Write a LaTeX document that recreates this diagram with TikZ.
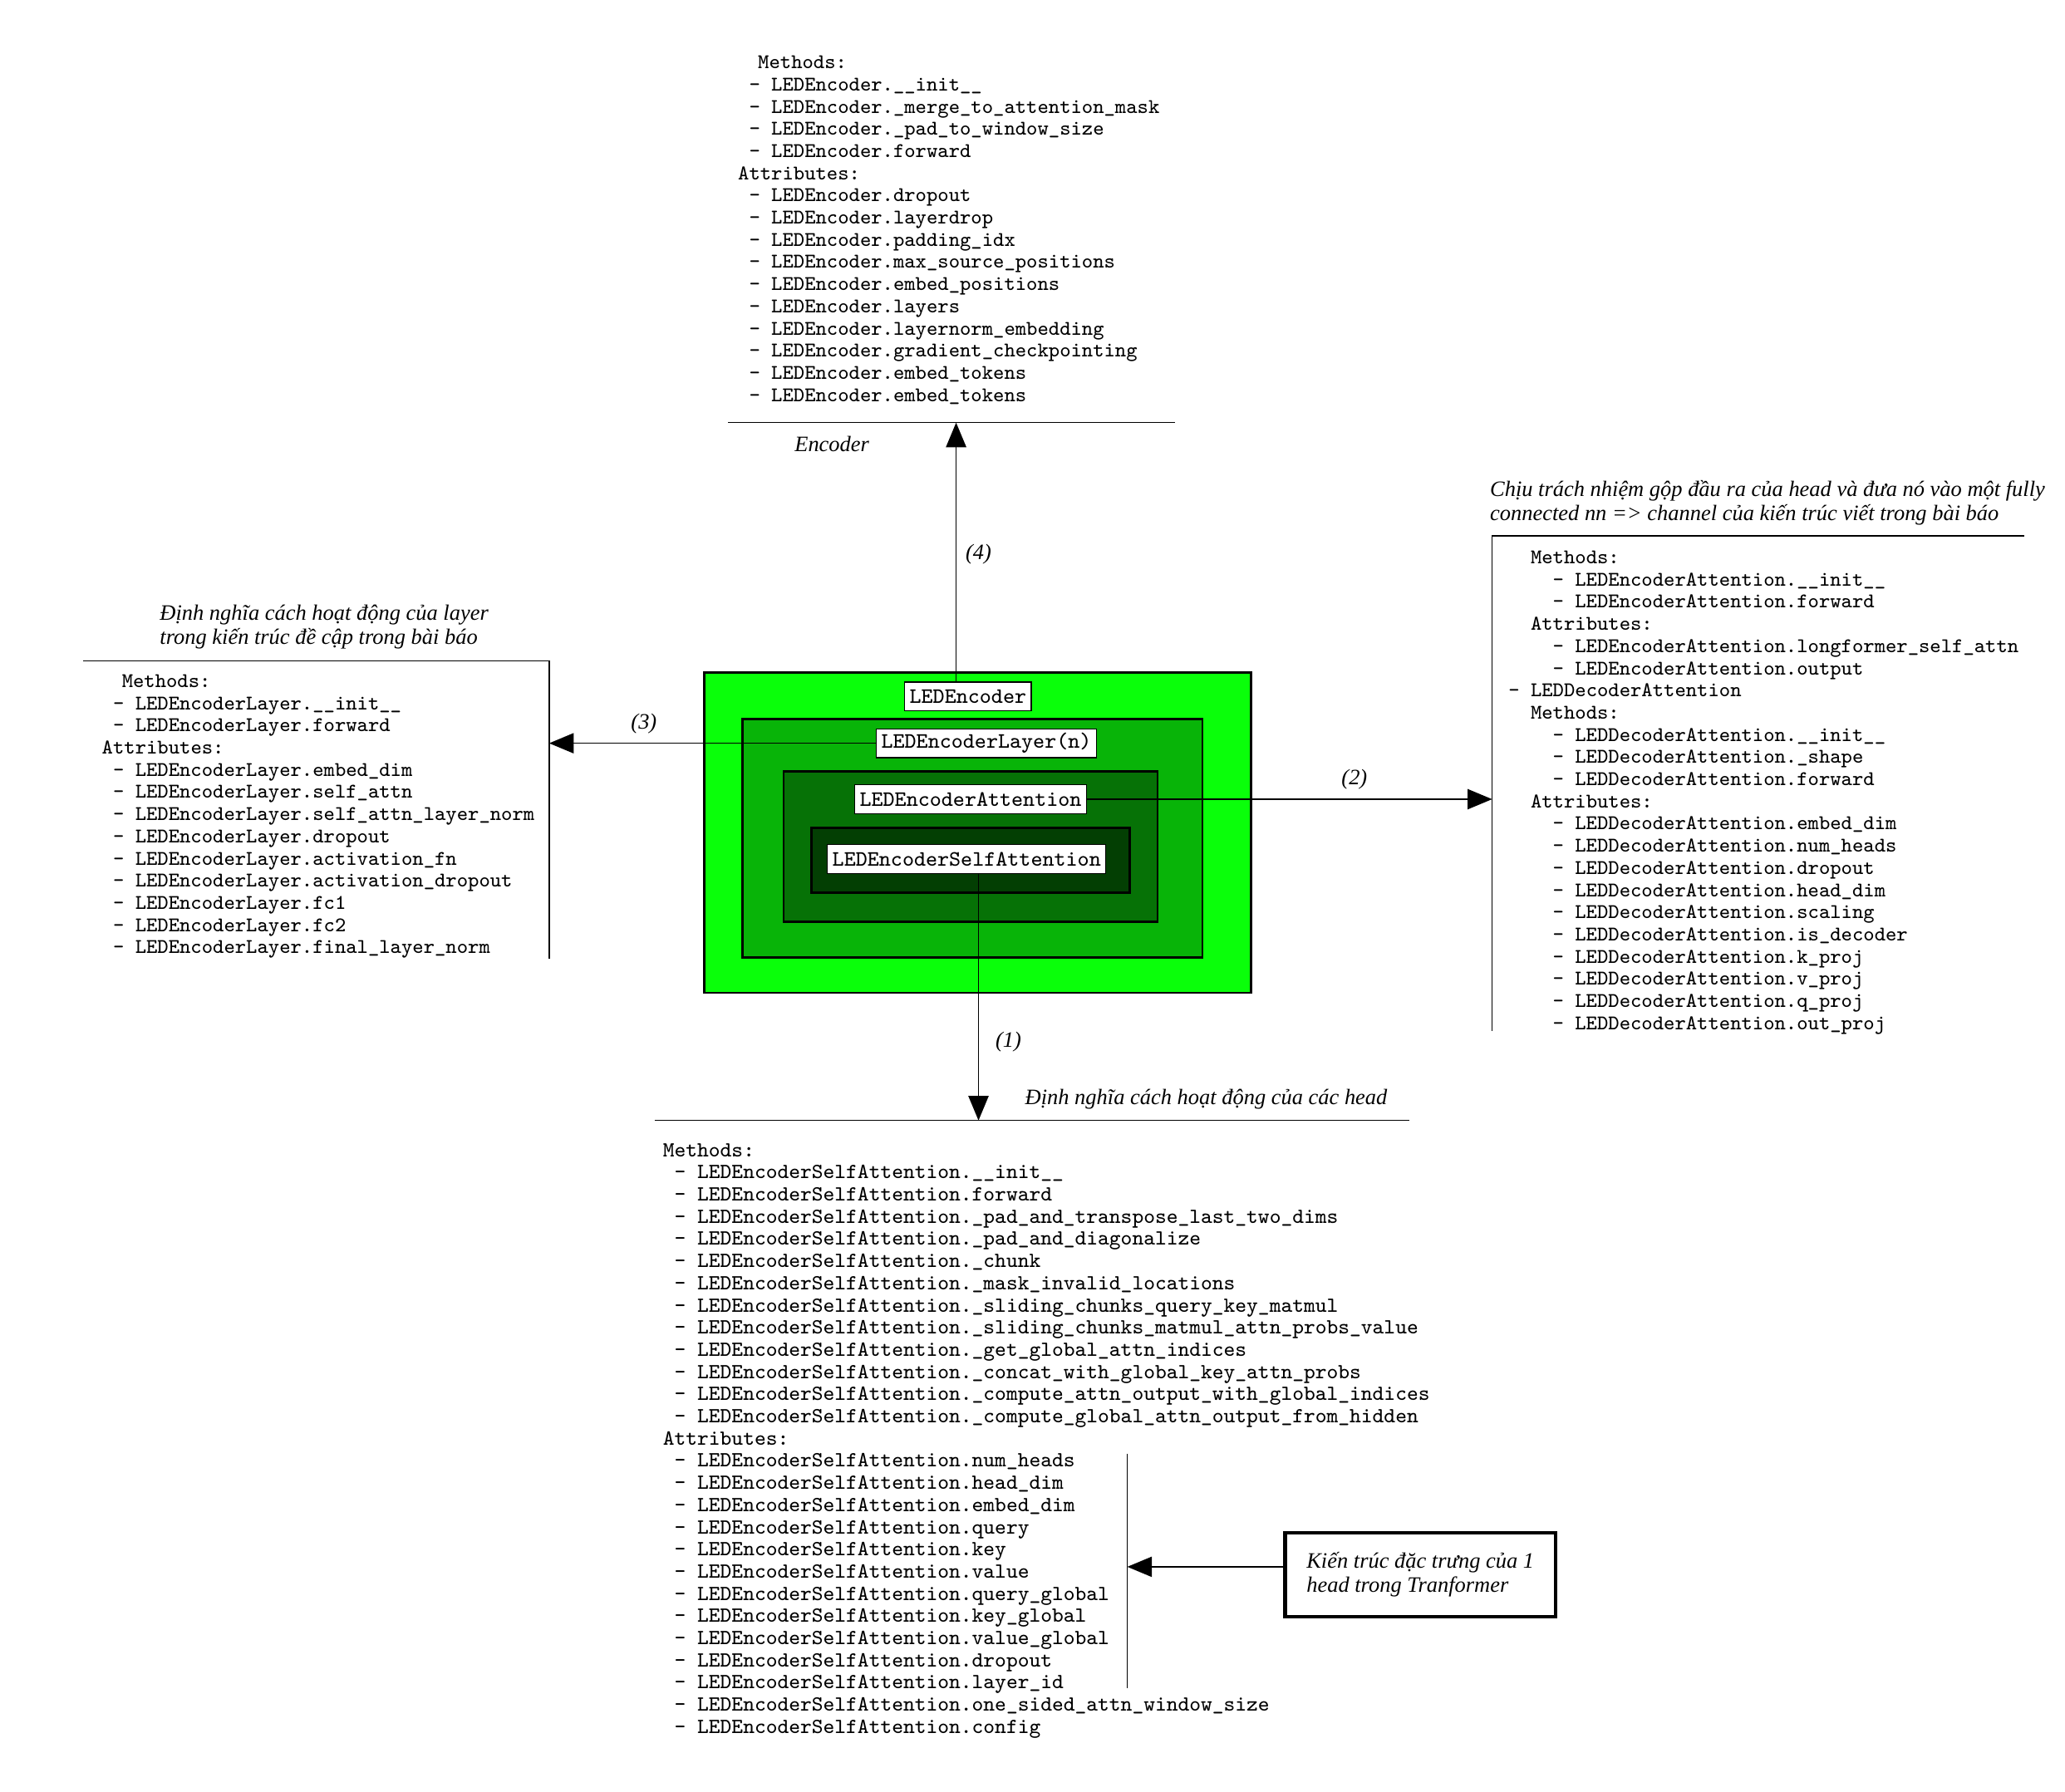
\documentclass[tikz,border=0pt]{standalone}
\usepackage{fontspec}
\setmainfont{Liberation Serif}
\usepackage{xcolor}
\usepackage{tikz}
\usetikzlibrary{arrows.meta}
\definecolor{encgreen}{HTML}{0AFF0A}
\definecolor{layergreen}{HTML}{08B408}
\definecolor{attngreen}{HTML}{067206}
\definecolor{selfgreen}{HTML}{033F03}
\newcommand{\lstfont}{\ttfamily\fontsize{7.22}{7.67}\selectfont}
\newcommand{\headlstfont}{\ttfamily\fontsize{7.45}{7.67}\selectfont}
\newcommand{\lblfont}{\ttfamily\fontsize{7.6}{8}\selectfont}
\newcommand{\notefont}{\itshape\fontsize{7.6}{8.2}\selectfont}
\newcommand{\indt}[1]{\hspace*{#1\fontdimen2\font}}

\begin{document}
\begin{tikzpicture}[x=0.16mm, y=-0.16mm, >={Triangle[length=8.5pt,width=7pt]},
  lbl/.style={draw, fill=white, font=\lblfont, inner xsep=0.6mm, inner ysep=0pt, minimum height=3.5mm},
  lst/.style={font=\lstfont, align=left, inner sep=0pt, anchor=north west},
  note/.style={font=\notefont, inner sep=0pt},
  frame/.style={line width=0.8pt}]
\useasboundingbox (0,0) rectangle (1568,1361);

% nested blocks
\draw[frame, fill=encgreen] (535,511) rectangle (950,754);
\draw[frame, fill=layergreen] (564,546) rectangle (913,727);
\draw[frame, fill=attngreen] (595,586) rectangle (879,700);
\draw[frame, fill=selfgreen] (616,629) rectangle (858,678);

\node[lbl] (encLbl) at (735,529) {LEDEncoder};
\node[lbl] (layerLbl) at (749,564.5) {LEDEncoderLayer(n)};
\node[lbl] (attnLbl) at (737,607) {LEDEncoderAttention};
\node[lbl] (selfLbl) at (734,652.5) {LEDEncoderSelfAttention};

% Encoder
\node[lst] (encList) at (560,42) {%
\indt{1.8}Methods:\\
\indt{1}- LEDEncoder.\_\_init\_\_\\
\indt{1}- LEDEncoder.\_merge\_to\_attention\_mask\\
\indt{1}- LEDEncoder.\_pad\_to\_window\_size\\
\indt{1}- LEDEncoder.forward\\
Attributes:\\
\indt{1}- LEDEncoder.dropout\\
\indt{1}- LEDEncoder.layerdrop\\
\indt{1}- LEDEncoder.padding\_idx\\
\indt{1}- LEDEncoder.max\_source\_positions\\
\indt{1}- LEDEncoder.embed\_positions\\
\indt{1}- LEDEncoder.layers\\
\indt{1}- LEDEncoder.layernorm\_embedding\\
\indt{1}- LEDEncoder.gradient\_checkpointing\\
\indt{1}- LEDEncoder.embed\_tokens\\
\indt{1}- LEDEncoder.embed\_tokens};
\draw (553,321) -- (892,321);
\node[note, anchor=west] (encNote) at (603,337) {Encoder};

% EncoderLayer
\node[note, align=left, anchor=west] (layerNote) at (121,476) {Định nghĩa cách hoạt động của layer\\trong kiến trúc đề cập trong bài báo};
\node[lst] (layerList) at (77,512) {%
\indt{1.8}Methods:\\
\indt{1}- LEDEncoderLayer.\_\_init\_\_\\
\indt{1}- LEDEncoderLayer.forward\\
Attributes:\\
\indt{1}- LEDEncoderLayer.embed\_dim\\
\indt{1}- LEDEncoderLayer.self\_attn\\
\indt{1}- LEDEncoderLayer.self\_attn\_layer\_norm\\
\indt{1}- LEDEncoderLayer.dropout\\
\indt{1}- LEDEncoderLayer.activation\_fn\\
\indt{1}- LEDEncoderLayer.activation\_dropout\\
\indt{1}- LEDEncoderLayer.fc1\\
\indt{1}- LEDEncoderLayer.fc2\\
\indt{1}- LEDEncoderLayer.final\_layer\_norm};
\draw (63,502) -- (417,502) -- (417,728);

% Attention
\node[note, align=left, anchor=west] (attnNote) at (1131,382) {Chịu trách nhiệm gộp đầu ra của head và đưa nó vào một fully\\connected nn => channel của kiến trúc viết trong bài báo};
\node[lst] (attnList) at (1145,418) {%
\indt{2}Methods:\\
\indt{4}- LEDEncoderAttention.\_\_init\_\_\\
\indt{4}- LEDEncoderAttention.forward\\
\indt{2}Attributes:\\
\indt{4}- LEDEncoderAttention.longformer\_self\_attn\\
\indt{4}- LEDEncoderAttention.output\\
- LEDDecoderAttention\\
\indt{2}Methods:\\
\indt{4}- LEDDecoderAttention.\_\_init\_\_\\
\indt{4}- LEDDecoderAttention.\_shape\\
\indt{4}- LEDDecoderAttention.forward\\
\indt{2}Attributes:\\
\indt{4}- LEDDecoderAttention.embed\_dim\\
\indt{4}- LEDDecoderAttention.num\_heads\\
\indt{4}- LEDDecoderAttention.dropout\\
\indt{4}- LEDDecoderAttention.head\_dim\\
\indt{4}- LEDDecoderAttention.scaling\\
\indt{4}- LEDDecoderAttention.is\_decoder\\
\indt{4}- LEDDecoderAttention.k\_proj\\
\indt{4}- LEDDecoderAttention.v\_proj\\
\indt{4}- LEDDecoderAttention.q\_proj\\
\indt{4}- LEDDecoderAttention.out\_proj};
\draw (1537,407) -- (1133,407) -- (1133,783);

% SelfAttention
\node[note, anchor=west] (selfNote) at (778,835) {Định nghĩa cách hoạt động của các head};
\node[lst, font=\headlstfont] (selfList) at (503,868) {%
Methods:\\
\indt{1}- LEDEncoderSelfAttention.\_\_init\_\_\\
\indt{1}- LEDEncoderSelfAttention.forward\\
\indt{1}- LEDEncoderSelfAttention.\_pad\_and\_transpose\_last\_two\_dims\\
\indt{1}- LEDEncoderSelfAttention.\_pad\_and\_diagonalize\\
\indt{1}- LEDEncoderSelfAttention.\_chunk\\
\indt{1}- LEDEncoderSelfAttention.\_mask\_invalid\_locations\\
\indt{1}- LEDEncoderSelfAttention.\_sliding\_chunks\_query\_key\_matmul\\
\indt{1}- LEDEncoderSelfAttention.\_sliding\_chunks\_matmul\_attn\_probs\_value\\
\indt{1}- LEDEncoderSelfAttention.\_get\_global\_attn\_indices\\
\indt{1}- LEDEncoderSelfAttention.\_concat\_with\_global\_key\_attn\_probs\\
\indt{1}- LEDEncoderSelfAttention.\_compute\_attn\_output\_with\_global\_indices\\
\indt{1}- LEDEncoderSelfAttention.\_compute\_global\_attn\_output\_from\_hidden\\
Attributes:\\
\indt{1}- LEDEncoderSelfAttention.num\_heads\\
\indt{1}- LEDEncoderSelfAttention.head\_dim\\
\indt{1}- LEDEncoderSelfAttention.embed\_dim\\
\indt{1}- LEDEncoderSelfAttention.query\\
\indt{1}- LEDEncoderSelfAttention.key\\
\indt{1}- LEDEncoderSelfAttention.value\\
\indt{1}- LEDEncoderSelfAttention.query\_global\\
\indt{1}- LEDEncoderSelfAttention.key\_global\\
\indt{1}- LEDEncoderSelfAttention.value\_global\\
\indt{1}- LEDEncoderSelfAttention.dropout\\
\indt{1}- LEDEncoderSelfAttention.layer\_id\\
\indt{1}- LEDEncoderSelfAttention.one\_sided\_attn\_window\_size\\
\indt{1}- LEDEncoderSelfAttention.config};
\draw (497,851) -- (1070,851);
\draw (856,1104) -- (856,1282);
\node[note, draw, line width=1.2pt, align=left, inner xsep=2.6mm, minimum width=32.8mm, minimum height=10.2mm] (headBox) at (1078.5,1196) {Kiến trúc đặc trưng của 1\\head trong Tranformer};

% connectors
\coordinate (encEnd) at (726,321);
\coordinate (layerEnd) at (417,564.5);
\coordinate (attnEnd) at (1133,607);
\coordinate (selfEnd) at (743,851);
\coordinate (headEnd) at (856,1190);
\draw[->] (encLbl.north -| encEnd) -- node[note, pos=0.49, right=1.1mm]{(4)} (encEnd);
\draw[->] (layerLbl.west) -- node[note, pos=0.71, above=1.1mm]{(3)} (layerEnd);
\draw[->] (attnLbl.east) -- node[note, pos=0.66, above=1.1mm]{(2)} (attnEnd);
\draw[->] (selfLbl.south -| selfEnd) -- node[note, pos=0.68, right=2mm]{(1)} (selfEnd);
\draw[->] (headBox.west |- headEnd) -- (headEnd);
\end{tikzpicture}
\end{document}
